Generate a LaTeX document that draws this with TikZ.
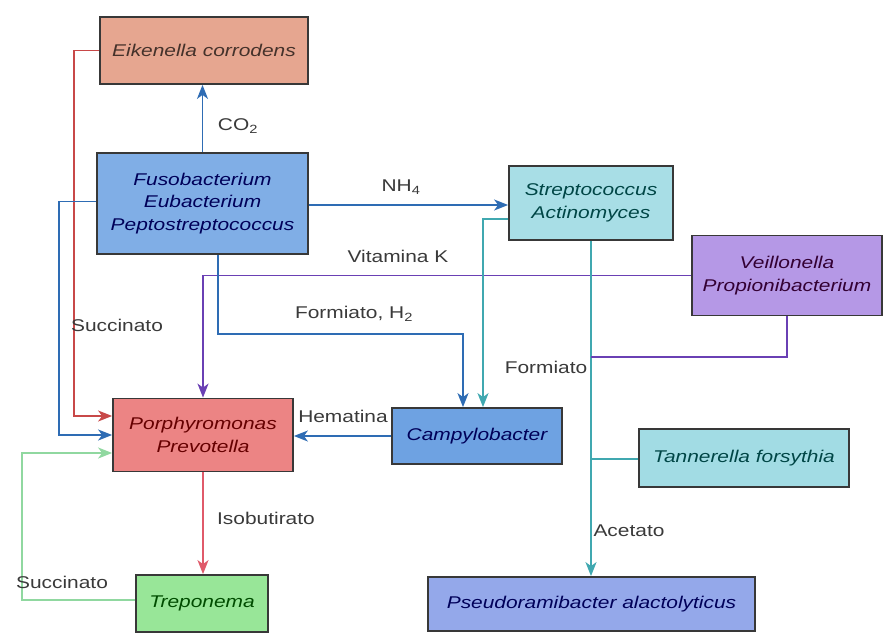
\documentclass[tikz,border=0pt]{standalone}
\usepackage{fontspec}
\setmainfont{Liberation Sans}[FakeStretch=1.23]
\usetikzlibrary{arrows.meta}

\definecolor{boxline}{HTML}{383838}
\definecolor{labelgray}{HTML}{3A3A3A}
\definecolor{eikfill}{HTML}{E6A690}
\definecolor{fusofill}{HTML}{80AEE6}
\definecolor{strepfill}{HTML}{A8DEE6}
\definecolor{veilfill}{HTML}{B598E6}
\definecolor{porphfill}{HTML}{EC8484}
\definecolor{campyfill}{HTML}{6EA2E2}
\definecolor{tannfill}{HTML}{A2DCE4}
\definecolor{pseudofill}{HTML}{94A8EA}
\definecolor{trepfill}{HTML}{98E698}
\definecolor{redline}{HTML}{C84848}
\definecolor{blueline}{HTML}{2E6CB4}
\definecolor{purpleline}{HTML}{6A40B4}
\definecolor{tealline}{HTML}{40A8B0}
\definecolor{greenline}{HTML}{90D8A0}
\definecolor{pinkline}{HTML}{E05A6A}

\begin{document}
\begin{tikzpicture}[x=1pt, y=-1pt,
  font=\fontsize{17}{22.5}\selectfont,
  box/.style={rectangle, draw=boxline, line width=1.8pt, align=center, inner sep=0pt,
    font=\fontsize{17}{22.5}\selectfont\itshape},
  link/.style={line width=1.7pt},
  flow/.style={link, -{Stealth[length=14pt, width=11pt, inset=4pt]}},
  lbl/.style={text=labelgray, inner sep=1pt}]
  \fill[white] (0,0) rectangle (884,637);
  \useasboundingbox (0,0) rectangle (884,637);

  % bacteria
  \node[box, fill=eikfill, text=eikfill!30!black, minimum width=208pt, minimum height=67pt] (eik) at (204,50.5) {Eikenella corrodens};
  \node[box, fill=fusofill, text=blue!35!black, minimum width=211pt, minimum height=101pt] (fuso) at (202.5,203.5) {Fusobacterium\\Eubacterium\\Peptostreptococcus};
  \node[box, fill=strepfill, text=teal!55!black, minimum width=164pt, minimum height=74pt] (strep) at (591,203) {Streptococcus\\Actinomyces};
  \node[box, fill=veilfill, text=violet!40!black, minimum width=190pt, minimum height=80pt] (veil) at (787,275.5) {Veillonella\\Propionibacterium};
  \node[box, fill=porphfill, text=red!40!black, minimum width=180pt, minimum height=73pt] (porph) at (203,435) {Porphyromonas\\Prevotella};
  \node[box, fill=campyfill, text=blue!35!black, minimum width=170pt, minimum height=56pt] (campy) at (477,436) {Campylobacter};
  \node[box, fill=tannfill, text=teal!55!black, minimum width=210pt, minimum height=58pt] (tann) at (744,458) {Tannerella forsythia};
  \node[box, fill=pseudofill, text=blue!35!black, minimum width=327pt, minimum height=54pt] (pseudo) at (591.5,604) {Pseudoramibacter alactolyticus};
  \node[box, fill=trepfill, text=green!30!black, minimum width=132pt, minimum height=57pt] (trep) at (202,603.5) {Treponema};

  % exchanges
  \draw[flow, blueline] (fuso.north) -- (fuso.north |- eik.south);
  \node[lbl] (co2) at (238,126) {CO\textsubscript{2}};

  \draw[flow, redline] (eik.west) -- ++(-25,0) |- ([yshift=19pt]porph.west);
  \draw[flow, blueline] ([yshift=2pt]fuso.west) -- ++(-37,0) |- (porph.west);
  \node[lbl] (succ1) at (117,325) {Succinato};

  \draw[flow, blueline] ([yshift=-1.5pt]fuso.east) -- ([yshift=-1.5pt]fuso.east -| strep.west);
  \node[lbl] (nh4) at (401,187) {NH\textsubscript{4}};

  \draw[flow, purpleline] (veil.west) -| (porph.north);
  \node[lbl] (vitk) at (398,256) {Vitamina K};

  \draw[flow, blueline] ([xshift=15.5pt]fuso.south) -- ++(0,79) -| ([xshift=-14pt]campy.north);
  \node[lbl] (form1) at (354,314) {Formiato, H\textsubscript{2}};

  \draw[flow, tealline] ([yshift=-16pt]strep.west) -| ([xshift=6pt]campy.north);
  \node[lbl] (form2) at (546,367) {Formiato};

  \draw[flow, tealline] (strep.south) -- (strep.south |- pseudo.north);
  \node[lbl] (acet) at (629,531) {Acetato};

  \draw[link, purpleline] (veil.south) -- ++(0,40.5) coordinate (vj) -- (vj -| strep.south);
  \draw[link, tealline] ([yshift=-1pt]tann.west) -- ([yshift=-1pt]tann.west -| strep.south);

  \draw[flow, blueline] (campy.west) -- (campy.west -| porph.east);
  \node[lbl] (hem) at (343,416) {Hematina};

  \draw[flow, pinkline] (porph.south) -- (porph.south |- trep.north);
  \node[lbl] (isob) at (266,518) {Isobutirato};

  \draw[flow, greenline] ([yshift=3.5pt]trep.west) -- ++(-113,0) |- ([yshift=-18pt]porph.west);
  \node[lbl] (succ2) at (62,582) {Succinato};
\end{tikzpicture}
\end{document}
